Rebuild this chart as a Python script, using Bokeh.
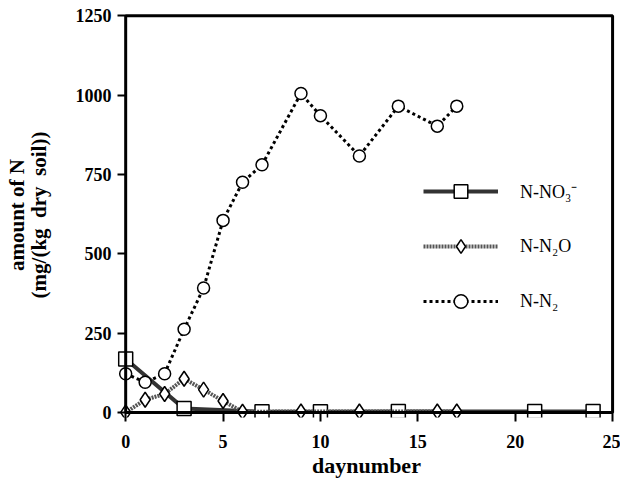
from bokeh.plotting import figure
from bokeh.models import Range1d, BoxAnnotation, Legend, LegendItem, FixedTicker
from bokeh.embed import file_html
from bokeh.resources import INLINE

# ---- data ----
days_no3 = [0, 3, 7, 10, 14, 21, 24]
no3 = [168, 12, 2, 2, 3, 3, 3]

days_n2o = [0, 1, 2, 3, 4, 5, 6, 9, 12, 16, 17]
n2o = [0, 40, 58, 106, 72, 36, 2, 3, 3, 3, 3]

days_n2 = [0, 1, 2, 3, 4, 5, 6, 7, 9, 10, 12, 14, 16, 17]
n2 = [122, 95, 122, 262, 392, 605, 725, 780, 1005, 935, 808, 965, 902, 965]

x_ticks = [0, 5, 10, 15, 20, 25]
y_ticks = [0, 250, 500, 750, 1000, 1250]
X_MAX = 25
Y_MAX = 1250

FONT = "Liberation Serif"

p = figure(width=620, height=480,
           x_range=Range1d(-0.42, 25.15), y_range=Range1d(-16, 1260),
           output_backend="svg", toolbar_location=None,
           min_border_left=117, min_border_right=5,
           min_border_top=12, min_border_bottom=62)

p.xgrid.visible = False
p.ygrid.visible = False
p.outline_line_color = None
p.background_fill_color = "white"
p.border_fill_color = "white"

# frame box drawn at the true axis limits
p.add_layout(BoxAnnotation(left=0, right=X_MAX, bottom=0, top=Y_MAX,
                           fill_color=None, fill_alpha=0,
                           line_color="black", line_alpha=1.0, line_width=3))

for ax in (p.xaxis[0], p.yaxis[0]):
    ax.major_tick_line_width = 2
    ax.major_tick_line_color = "black"
    ax.minor_tick_line_color = None
    ax.axis_line_color = None
    ax.major_label_text_font = FONT
    ax.major_label_text_font_style = "bold"
    ax.major_label_text_font_size = "18px"
    ax.major_label_text_color = "black"
    ax.axis_label_text_font = FONT
    ax.axis_label_text_font_style = "bold"
    ax.axis_label_text_color = "black"

xa = p.xaxis[0]
xa.ticker = FixedTicker(ticks=x_ticks)
xa.major_tick_in = 5
xa.major_tick_out = 4
xa.major_label_standoff = 13
xa.axis_label = "daynumber"
xa.axis_label_text_font_size = "22px"
xa.axis_label_standoff = 2

ya = p.yaxis[0]
ya.ticker = FixedTicker(ticks=y_ticks)
ya.major_tick_in = 8
ya.major_tick_out = 0
ya.major_label_standoff = 6
ya.axis_label = "amount of N\n(mg/(kg\u00a0\u00a0dry\u00a0\u00a0soil))"
ya.axis_label_text_font_size = "21px"
ya.axis_label_standoff = 22
ya.axis_label_text_line_height = 0.9

# series
r1l = p.line(days_no3, no3, line_color="#333333", line_width=4)
r1m = p.scatter(days_no3, no3, marker="square", size=14, fill_color="white",
                line_color="black", line_width=1.5)

r2l = p.line(days_n2o, n2o, line_color="#555555", line_width=4, line_dash="2 1")
r2m = p.scatter(days_n2o, n2o, marker="diamond", size=15, fill_color="white",
                line_color="black", line_width=1.5)

r3l = p.line(days_n2, n2, line_color="black", line_width=3, line_dash="3 3")
r3m = p.scatter(days_n2, n2, marker="circle", size=12, fill_color="white",
                line_color="black", line_width=1.5)

legend = Legend(items=[
    LegendItem(label="N-NO\u2083\u207b", renderers=[r1l, r1m]),
    LegendItem(label="N-N\u2082O", renderers=[r2l, r2m]),
    LegendItem(label="N-N\u2082", renderers=[r3l, r3m]),
], location=(306, 99))
legend.background_fill_alpha = 0
legend.border_line_color = None
legend.padding = 0
legend.margin = 0
legend.glyph_width = 75
legend.glyph_height = 34
legend.label_height = 34
legend.spacing = 21
legend.label_standoff = 22
legend.label_text_font = FONT
legend.label_text_font_size = "18px"
legend.label_text_color = "black"
p.add_layout(legend, "center")

open("out.html", "w").write(file_html(p, INLINE))
